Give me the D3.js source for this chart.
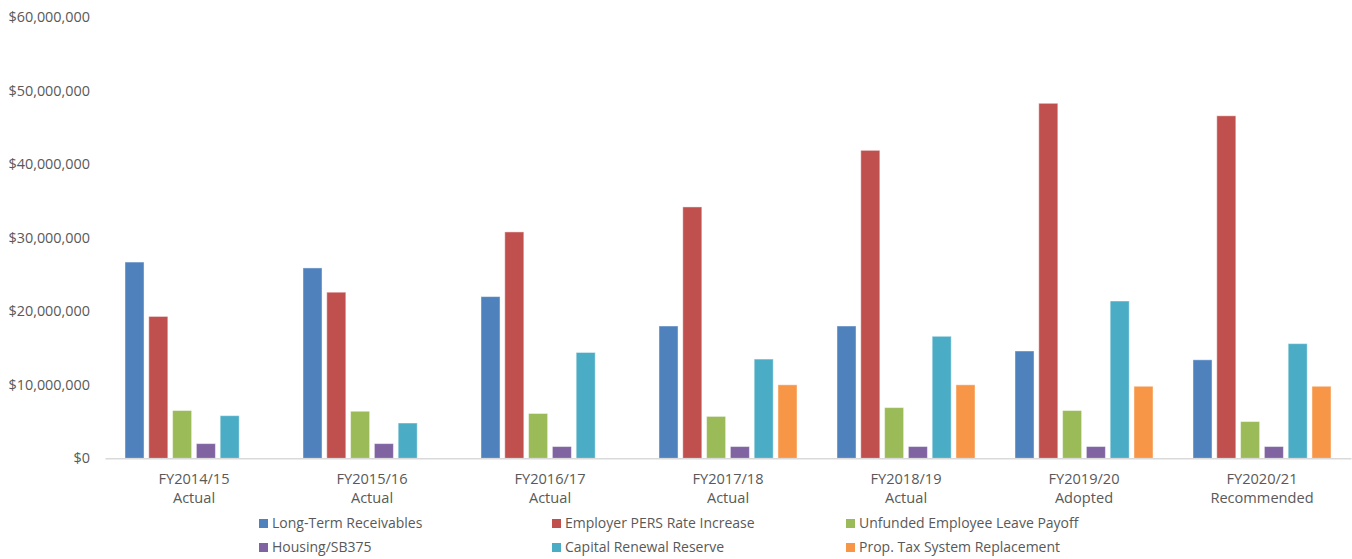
<!DOCTYPE html>
<html>
<head>
<meta charset="utf-8">
<script src="https://cdn.jsdelivr.net/npm/d3@7"></script>
<style>
  html, body { margin: 0; padding: 0; background: #fff; }
  svg { display: block; }
  text { font-family: "Open Sans", "Liberation Sans", sans-serif; fill: #595959; }
</style>
</head>
<body>
<svg id="chart" width="1352" height="559"></svg>
<script>
// Fiscal years and their status lines
const years = ["FY2014/15", "FY2015/16", "FY2016/17", "FY2017/18", "FY2018/19", "FY2019/20", "FY2020/21"];
const yearStatus = ["Actual", "Actual", "Actual", "Actual", "Actual", "Adopted", "Recommended"];

const seriesNames = [
  "Long-Term Receivables",
  "Employer PERS Rate Increase",
  "Unfunded Employee Leave Payoff",
  "Housing/SB375",
  "Capital Renewal Reserve",
  "Prop. Tax System Replacement"
];
const seriesColors = ["#4F81BD", "#C0504D", "#9BBB59", "#8064A2", "#4BACC6", "#F79646"];

// Reserve balances, dollars (null = no bar that year)
const longTermReceivables  = [26700000, 25900000, 22000000, 18000000, 18000000, 14600000, 13400000];
const employerPers         = [19300000, 22600000, 30800000, 34200000, 41900000, 48300000, 46600000];
const unfundedLeavePayoff  = [6500000, 6400000, 6100000, 5700000, 6900000, 6500000, 5000000];
const housingSb375         = [2000000, 2000000, 1600000, 1600000, 1600000, 1600000, 1600000];
const capitalRenewal       = [5800000, 4800000, 14400000, 13500000, 16600000, 21400000, 15600000];
const propTaxReplacement   = [null, null, null, 10000000, 10000000, 9800000, 9800000];

const yTicks = [0, 10000000, 20000000, 30000000, 40000000, 50000000, 60000000];

const seriesValues = [longTermReceivables, employerPers, unfundedLeavePayoff, housingSb375, capitalRenewal, propTaxReplacement];

const svg = d3.select("#chart");

const plot = { left: 105, right: 1351, top: 17.3, bottom: 458.3 };

const x0 = d3.scaleBand().domain(years).range([plot.left, plot.right]).padding(0);
const x1 = d3.scaleBand().domain(seriesNames).range([0, x0.bandwidth()])
  .paddingInner(0.2).paddingOuter(0.84);
const y = d3.scaleLinear().domain([0, 60000000]).range([plot.bottom, plot.top]);

const fmt = v => "$" + d3.format(",")(v);

// Y axis labels (no axis line, no gridlines)
const yAxis = d3.axisLeft(y).tickValues(yTicks).tickFormat(fmt).tickSize(0).tickPadding(0);
const yG = svg.append("g").attr("transform", "translate(90,0)").call(yAxis);
yG.select(".domain").remove();
yG.selectAll("text").style("font-size", "14.4px").attr("fill", "#595959")
  .attr("font-family", "'Open Sans', sans-serif");

// Bars
const groups = svg.append("g").selectAll("g")
  .data(years)
  .join("g")
  .attr("transform", d => `translate(${x0(d)},0)`);

groups.selectAll("rect")
  .data((d, i) => seriesNames.map((s, k) => ({ series: s, value: seriesValues[k][i], color: seriesColors[k] })))
  .join("rect")
  .filter(d => d.value != null)
  .attr("x", d => x1(d.series))
  .attr("width", x1.bandwidth())
  .attr("y", d => y(d.value))
  .attr("height", d => y(0) - y(d.value))
  .attr("fill", d => d.color)
  .attr("stroke", "rgba(255,255,255,0.45)")
  .attr("stroke-width", 1);

// Category axis
const xAxis = d3.axisBottom(x0).tickSize(0).tickPadding(0).tickFormat("");
const xG = svg.append("g").attr("transform", `translate(0,${plot.bottom})`).call(xAxis);
xG.select(".domain").attr("stroke", "#D9D9D9").attr("stroke-width", 1.5);

const labels = svg.append("g").selectAll("text")
  .data(years)
  .join("text")
  .attr("text-anchor", "middle")
  .attr("x", d => x0(d) + x0.bandwidth() / 2)
  .style("font-size", "14.6px");
labels.append("tspan").attr("x", d => x0(d) + x0.bandwidth() / 2).attr("y", 484).text(d => d);
labels.append("tspan").attr("x", d => x0(d) + x0.bandwidth() / 2).attr("y", 503).text((d, i) => yearStatus[i]);

// Legend: two rows of three
const legendCols = [259, 552, 846];
const legendRows = [523.5, 547.5];
const legend = svg.append("g").selectAll("g")
  .data(seriesNames)
  .join("g")
  .attr("transform", (d, i) => `translate(${legendCols[i % 3]},${legendRows[Math.floor(i / 3)]})`);
legend.append("rect")
  .attr("x", 0).attr("y", -4.5).attr("width", 9).attr("height", 9)
  .attr("fill", (d, i) => seriesColors[i]);
legend.append("text")
  .attr("x", 13).attr("y", 0).attr("dy", "0.35em")
  .style("font-size", "14px")
  .text(d => d);
</script>
</body>
</html>
